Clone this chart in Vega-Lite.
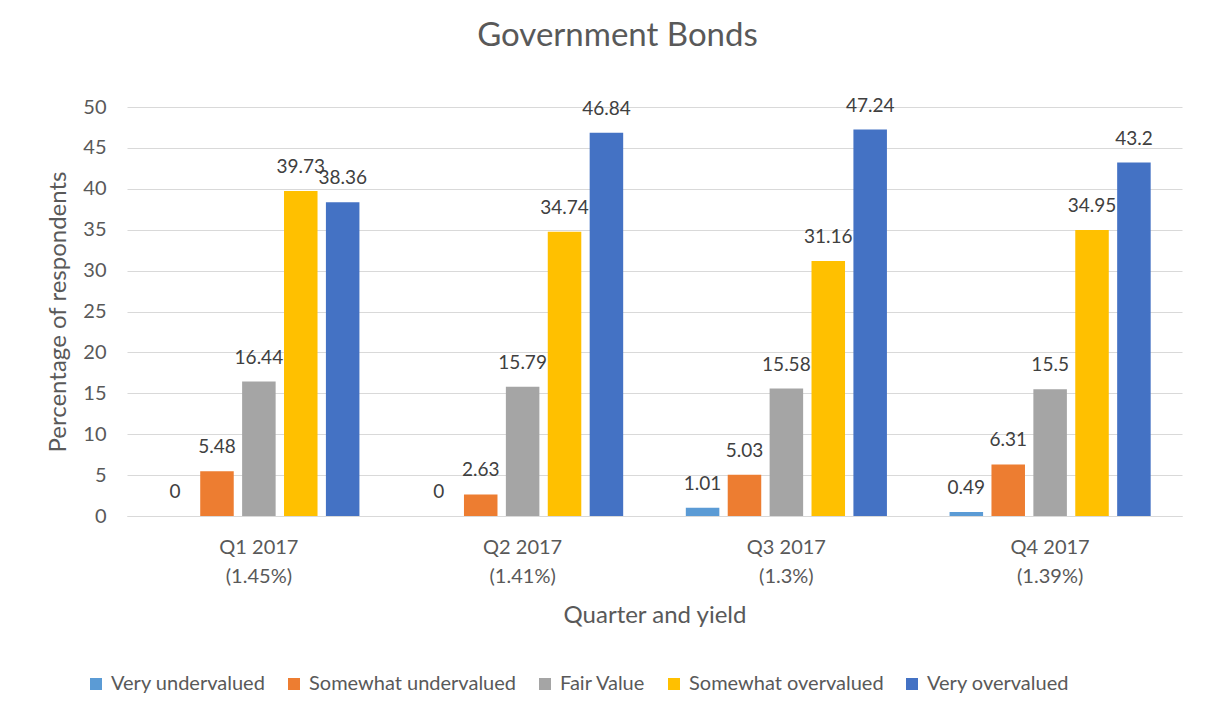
{
  "$schema": "https://vega.github.io/schema/vega-lite/v6.json",
  "width": 1055,
  "height": 409,
  "autosize": {"type": "none"},
  "padding": {"left": 127, "top": 107, "right": 23, "bottom": 202},
  "background": "white",
  "title": {"text": "Government Bonds", "fontSize": 33, "font": "Lato", "fontWeight": "normal", "color": "#595959", "offset": 44, "dx": -37},
  "data": {
    "values": [
      {"quarter": "Q1 2017|(1.45%)", "category": "Very undervalued", "value": 0},
      {"quarter": "Q1 2017|(1.45%)", "category": "Somewhat undervalued", "value": 5.48},
      {"quarter": "Q1 2017|(1.45%)", "category": "Fair Value", "value": 16.44},
      {"quarter": "Q1 2017|(1.45%)", "category": "Somewhat overvalued", "value": 39.73},
      {"quarter": "Q1 2017|(1.45%)", "category": "Very overvalued", "value": 38.36},
      {"quarter": "Q2 2017|(1.41%)", "category": "Very undervalued", "value": 0},
      {"quarter": "Q2 2017|(1.41%)", "category": "Somewhat undervalued", "value": 2.63},
      {"quarter": "Q2 2017|(1.41%)", "category": "Fair Value", "value": 15.79},
      {"quarter": "Q2 2017|(1.41%)", "category": "Somewhat overvalued", "value": 34.74},
      {"quarter": "Q2 2017|(1.41%)", "category": "Very overvalued", "value": 46.84},
      {"quarter": "Q3 2017|(1.3%)", "category": "Very undervalued", "value": 1.01},
      {"quarter": "Q3 2017|(1.3%)", "category": "Somewhat undervalued", "value": 5.03},
      {"quarter": "Q3 2017|(1.3%)", "category": "Fair Value", "value": 15.58},
      {"quarter": "Q3 2017|(1.3%)", "category": "Somewhat overvalued", "value": 31.16},
      {"quarter": "Q3 2017|(1.3%)", "category": "Very overvalued", "value": 47.24},
      {"quarter": "Q4 2017|(1.39%)", "category": "Very undervalued", "value": 0.49},
      {"quarter": "Q4 2017|(1.39%)", "category": "Somewhat undervalued", "value": 6.31},
      {"quarter": "Q4 2017|(1.39%)", "category": "Fair Value", "value": 15.5},
      {"quarter": "Q4 2017|(1.39%)", "category": "Somewhat overvalued", "value": 34.95},
      {"quarter": "Q4 2017|(1.39%)", "category": "Very overvalued", "value": 43.2}
    ]
  },
  "encoding": {
    "x": {
      "field": "quarter", "type": "nominal",
      "sort": ["Q1 2017|(1.45%)", "Q2 2017|(1.41%)", "Q3 2017|(1.3%)", "Q4 2017|(1.39%)"],
      "scale": {"paddingInner": 0.2, "paddingOuter": 0.1},
      "title": "Quarter and yield",
      "axis": {
        "labelExpr": "split(datum.label, '|')",
        "labelAngle": 0,
        "labelFontSize": 20,
        "labelLineHeight": 29,
        "labelPadding": 21,
        "ticks": false,
        "domainColor": "#D9D9D9",
        "titlePadding": 17
      }
    },
    "xOffset": {
      "field": "category", "type": "nominal",
      "sort": ["Very undervalued", "Somewhat undervalued", "Fair Value", "Somewhat overvalued", "Very overvalued"],
      "scale": {"paddingInner": 0.2, "paddingOuter": 0.118}
    },
    "y": {
      "field": "value", "type": "quantitative",
      "scale": {"domain": [0, 50]},
      "title": "Percentage of respondents",
      "axis": {
        "values": [0, 5, 10, 15, 20, 25, 30, 35, 40, 45, 50],
        "labelFontSize": 20,
        "labelPadding": 21,
        "ticks": false,
        "domain": false,
        "gridColor": "#D9D9D9",
        "titlePadding": 12
      }
    }
  },
  "layer": [
    {
      "mark": {"type": "bar"},
      "encoding": {
        "color": {
          "field": "category", "type": "nominal",
          "scale": {
            "domain": ["Very undervalued", "Somewhat undervalued", "Fair Value", "Somewhat overvalued", "Very overvalued"],
            "range": ["#5B9BD5", "#ED7D31", "#A5A5A5", "#FFC000", "#4472C4"]
          },
          "legend": {
            "title": null,
            "orient": "none",
            "direction": "horizontal",
            "columns": 5,
            "legendX": -41,
            "legendY": 567,
            "symbolType": "square",
            "symbolSize": 144,
            "symbolStrokeWidth": 0,
            "labelFontSize": 20,
            "labelOffset": 5,
            "labelLimit": 0,
            "columnPadding": 18,
            "padding": 0
          }
        }
      }
    },
    {
      "mark": {"type": "text", "baseline": "alphabetic", "dy": -18, "fontSize": 19, "color": "#404040"},
      "encoding": {
        "text": {"field": "value", "type": "nominal"}
      }
    }
  ],
  "config": {
    "font": "Lato",
    "view": {"stroke": null},
    "axis": {
      "labelColor": "#595959",
      "titleColor": "#595959",
      "titleFontSize": 24,
      "titleFontWeight": "normal",
      "labelFont": "Lato",
      "titleFont": "Lato"
    },
    "legend": {"labelColor": "#595959", "labelFont": "Lato"}
  }
}
